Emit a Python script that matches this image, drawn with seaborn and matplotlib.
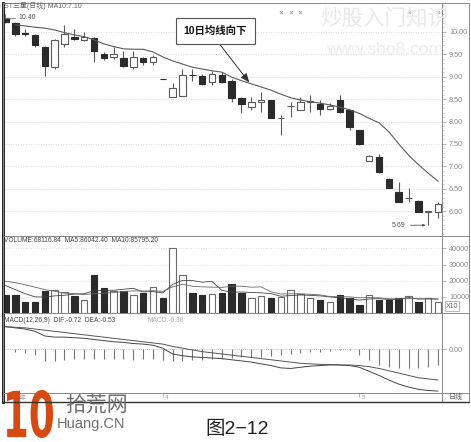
import numpy as np
import pandas as pd
import matplotlib
matplotlib.use("Agg")
import matplotlib.pyplot as plt
import matplotlib.transforms as mtransforms
import seaborn as sns
from matplotlib.ticker import MultipleLocator
from matplotlib.textpath import TextPath
from matplotlib.patches import PathPatch, Rectangle
from matplotlib.font_manager import FontProperties

# ---- daily candles ----
opens = [10.30, 10.20, 9.97, 9.93, 9.67, 9.22, 9.72, 9.89, 9.82, 9.85, 9.50, 9.43, 9.42, 9.22, 9.41,
         9.33, 8.95, 8.54, 8.57, 9.04, 9.01, 8.89, 9.04, 8.90, 8.52, 8.32, 8.43, 8.48, 8.07, 8.34,
         8.26, 8.44, 8.39, 8.29, 8.48, 8.26, 7.80, 7.13, 7.22, 6.73, 6.42, 6.29, 6.23, 5.99, 5.98]
closes = [10.22, 9.94, 9.95, 9.70, 9.24, 9.81, 9.96, 9.84, 9.88, 9.57, 9.41, 9.50, 9.24, 9.44, 9.32,
          9.43, 8.94, 8.74, 9.04, 9.03, 8.84, 9.06, 8.89, 8.52, 8.39, 8.44, 8.49, 8.07, 8.08, 8.35,
          8.44, 8.45, 8.29, 8.34, 8.22, 7.88, 7.49, 7.24, 6.87, 6.53, 6.20, 6.30, 5.98, 6.00, 6.16]
highs = [10.40, 10.22, 10.05, 9.96, 9.69, 9.84, 10.15, 10.07, 9.99, 9.88, 9.55, 9.67, 9.58, 9.58, 9.44,
         9.48, 8.95, 8.85, 9.16, 9.17, 9.06, 9.12, 9.11, 8.94, 8.55, 8.55, 8.66, 8.48, 8.15, 8.44,
         8.55, 8.59, 8.48, 8.42, 8.59, 8.29, 7.82, 7.26, 7.28, 6.75, 6.66, 6.51, 6.25, 6.01, 6.20]
lows = [10.20, 9.90, 9.90, 9.67, 9.01, 9.18, 9.67, 9.82, 9.80, 9.33, 9.37, 9.39, 9.22, 9.16, 9.27,
        9.26, 8.94, 8.54, 8.57, 8.91, 8.81, 8.81, 8.85, 8.44, 8.20, 8.26, 8.22, 8.07, 7.70, 8.11,
        8.26, 8.22, 8.14, 8.26, 8.18, 7.80, 7.47, 7.12, 6.86, 6.53, 6.20, 6.20, 5.98, 5.69, 5.85]
ma10 = [np.nan, 10.15, 10.13, 10.10, 10.08, 10.04, 9.98, 9.93, 9.89, 9.82, 9.73, 9.67, 9.62, 9.61, 9.61,
        9.55, 9.44, 9.35, 9.28, 9.21, 9.17, 9.13, 9.10, 8.99, 8.91, 8.84, 8.77, 8.70, 8.61, 8.53,
        8.48, 8.44, 8.41, 8.37, 8.32, 8.26, 8.18, 8.07, 7.97, 7.77, 7.50, 7.25, 7.04, 6.85, 6.67]

# ---- volume (x10) ----
volume = [11000, 11000, 6900, 6900, 13500, 14550, 13100, 10600, 7950, 23400, 15200, 13500, 13500, 11000, 12500,
          16200, 9000, 40000, 23400, 12100, 11000, 11650, 12100, 17800, 12500, 9600, 10400, 9400, 10000, 14550,
          11650, 9000, 7950, 6900, 11000, 9400, 4850, 11450, 7950, 8350, 9600, 10400, 6900, 9400, 6800]
vol_ma5 = [17000, 14500, 12000, 10000, 9900, 10600, 11000, 11700, 11900, 13900, 14050, 14100, 14700, 15300, 13100,
           13300, 12400, 17700, 20200, 20100, 19100, 19600, 14100, 12900, 13000, 12700, 12500, 12000, 10400, 10800,
           11200, 10900, 10600, 10000, 9300, 8850, 8000, 8700, 8900, 8400, 8400, 9600, 8600, 8900, 8600]
vol_ma10 = [19700, 18800, 17500, 16000, 14500, 13500, 12300, 12000, 11500, 11900, 12300, 12600, 13300, 13700, 13600,
            13800, 13400, 16200, 17800, 16600, 16200, 16000, 15900, 16600, 16600, 16000, 16200, 13100, 11800, 11900,
            11900, 11600, 11200, 10200, 10050, 10000, 9400, 9600, 9400, 8800, 8800, 8900, 8900, 8700, 8580]

# ---- MACD(12,26,9) ----
dif = [0.39, 0.37, 0.35, 0.31, 0.23, 0.21, 0.21, 0.20, 0.19, 0.17, 0.15, 0.13, 0.12, 0.10, 0.09,
       0.07, 0.02, -0.08, -0.11, -0.13, -0.14, -0.15, -0.16, -0.18, -0.20, -0.22, -0.25, -0.28, -0.32, -0.33,
       -0.31, -0.29, -0.28, -0.27, -0.27, -0.28, -0.31, -0.38, -0.45, -0.53, -0.60, -0.65, -0.69, -0.71, -0.72]
dea = [0.39, 0.38, 0.37, 0.35, 0.33, 0.31, 0.29, 0.27, 0.25, 0.23, 0.21, 0.19, 0.17, 0.15, 0.13,
       0.11, 0.09, 0.05, 0.02, -0.01, -0.04, -0.06, -0.08, -0.10, -0.12, -0.14, -0.16, -0.18, -0.20, -0.22,
       -0.24, -0.25, -0.26, -0.26, -0.27, -0.27, -0.28, -0.30, -0.33, -0.37, -0.41, -0.45, -0.49, -0.51, -0.53]
macd = [0.0, -0.05, -0.06, -0.09, -0.21, -0.20, -0.18, -0.17, -0.16, -0.16, -0.17, -0.17, -0.17, -0.18, -0.17,
        -0.17, -0.18, -0.21, -0.21, -0.18, -0.18, -0.16, -0.16, -0.15, -0.14, -0.13, -0.13, -0.12, -0.10, -0.08,
        -0.07, -0.05, -0.04, -0.03, -0.02, -0.02, -0.10, -0.18, -0.27, -0.30, -0.33, -0.33, -0.33, -0.30, -0.27]

price_ticks = [6.0, 6.5, 7.0, 7.5, 8.0, 8.5, 9.0, 9.5, 10.0]
vol_ticks = [10000, 20000, 30000, 40000]
month_days = [16, 36]
month_labels = ['4', '5']
info_days = [28, 29, 30, 41, 44]
low_day = 43
high_day = 0
arrow_day = 25

df = pd.DataFrame({'day': np.arange(len(opens)), 'open': opens, 'high': highs, 'low': lows,
                   'close': closes, 'ma10': ma10, 'volume': volume, 'vma5': vol_ma5,
                   'vma10': vol_ma10, 'dif': dif, 'dea': dea, 'macd': macd})
up = df['close'] >= df['open']

sns.set_theme(style="white")
plt.rcParams['font.family'] = ['Liberation Sans', 'Noto Sans CJK SC', 'DejaVu Sans']

W, H = 471, 442
DARK = '#2b2b2b'
EDGE = '#5a5a5a'
fig = plt.figure(figsize=(W / 100, H / 100), dpi=100)
fig.patch.set_facecolor('white')


def px(x0, y0, x1, y1):
    # pixel box (top-left origin) -> figure fraction rect
    return [x0 / W, 1 - y1 / H, (x1 - x0) / W, (y1 - y0) / H]


def fx(x):
    return x / W


def fy(y):
    return 1 - y / H


ax_p = fig.add_axes(px(3, 3, 442, 236))
ax_v = fig.add_axes(px(3, 236, 442, 313), sharex=ax_p)
ax_m = fig.add_axes(px(3, 313, 442, 393), sharex=ax_p)
ax_d = fig.add_axes(px(3, 393, 442, 402), sharex=ax_p)

'''
Candles
'''
body_w = 0.66
lo = df[['open', 'close']].min(axis=1)
hgt = (df['close'] - df['open']).abs().clip(lower=0.008)
ax_p.vlines(df['day'], df['low'], df['high'], color=EDGE, lw=0.8, zorder=2)
ax_p.bar(df['day'][up], hgt[up], bottom=lo[up], width=body_w, facecolor='white',
         edgecolor=EDGE, lw=0.8, zorder=3)
ax_p.bar(df['day'][~up], hgt[~up], bottom=lo[~up], width=body_w, facecolor=DARK,
         edgecolor=DARK, lw=0.8, zorder=3)
sns.lineplot(data=df, x='day', y='ma10', ax=ax_p, color='#5a5a5a', lw=0.8, zorder=4)

# small info marks along the top
ax_p.scatter(info_days, [10.43] * len(info_days), marker='x', s=5, color='#999999', lw=0.6, zorder=4)

ax_p.annotate('10.40', xy=(high_day, df['high'][high_day]), xytext=(13, -4), textcoords='offset pixels',
              fontsize=5, color='#555555', va='center',
              arrowprops=dict(arrowstyle='-', color='#777777', lw=0.6, shrinkA=0, shrinkB=0,
                              connectionstyle='angle,angleA=0,angleB=90,rad=0'))
ax_p.annotate('5.69', xy=(low_day - 0.25, df['low'][low_day]), xytext=(-20, 0), textcoords='offset pixels',
              fontsize=5, color='#555555', va='center', ha='right',
              arrowprops=dict(arrowstyle='-|>,head_length=0.3,head_width=0.12', color='#555555', lw=0.6,
                              shrinkA=1, shrinkB=0))

ax_p.annotate('', xy=(arrow_day - 0.2, df['ma10'][arrow_day] + 0.03), xycoords='data',
              xytext=(fx(218), fy(42)), textcoords='figure fraction',
              arrowprops=dict(arrowstyle='-|>,head_length=0.45,head_width=0.18', color='#333333', lw=0.7,
                              shrinkA=0, shrinkB=0))
fig.text(fx(215), fy(31), '10日均线向下', fontsize=7.5, fontweight='bold', color='#111111',
         ha='center', va='center',
         bbox=dict(boxstyle='square,pad=0.75', facecolor='white', edgecolor='#555555', lw=0.8))

# watermark
fig.text(fx(385), fy(19), '炒股入门知识', fontsize=15.5, color='#e9e9e9', ha='center', va='center', zorder=0)
fig.text(fx(385), fy(50), 'www.sbo8.com', fontsize=12.5, color='#eeeeee', ha='center', va='center', zorder=0)

ax_p.set_ylim(5.45, 10.64)
ax_p.set_yticks(price_ticks)
ax_p.set_yticklabels([f'{t:.2f}' for t in price_ticks])
ax_p.yaxis.set_minor_locator(MultipleLocator(0.1))
ax_p.grid(axis='y', ls=(0, (1, 2)), color='#cfcfcf', lw=0.6)

'''
Volume
'''
ax_v.bar(df['day'][up], df['volume'][up], width=body_w, facecolor='white', edgecolor='#6a6a6a', lw=0.8, zorder=2)
ax_v.bar(df['day'][~up], df['volume'][~up], width=body_w, facecolor=DARK, edgecolor=DARK, lw=0.8, zorder=2)
sns.lineplot(data=df, x='day', y='vma5', ax=ax_v, color='#444444', lw=0.6, zorder=4)
sns.lineplot(data=df, x='day', y='vma10', ax=ax_v, color='#666666', lw=0.6, zorder=4)
ax_v.set_ylim(0, 47700)
ax_v.set_yticks(vol_ticks)
ax_v.set_yticklabels([str(t) for t in vol_ticks])
ax_v.grid(axis='y', ls=(0, (1, 2)), color='#d5d5d5', lw=0.6)

'''
MACD
'''
ax_m.vlines(df['day'], 0, df['macd'], color='#777777', lw=0.8, zorder=2)
ax_m.axhline(0, color='#aaaaaa', lw=0.6, ls=(0, (1, 1.5)), zorder=1)
sns.lineplot(data=df, x='day', y='dif', ax=ax_m, color='#444444', lw=0.7, zorder=3)
sns.lineplot(data=df, x='day', y='dea', ax=ax_m, color='#555555', lw=0.7, zorder=3)
ax_m.set_ylim(-0.753, 0.626)
ax_m.set_yticks([0])
ax_m.set_yticklabels(['0.00'])

'''
Format axes
'''
for ax in (ax_p, ax_v, ax_m, ax_d):
    ax.set_xlim(-0.25, 44.4)
    ax.set_xlabel('')
    ax.set_ylabel('')
    ax.set_facecolor('none')
    ax.yaxis.tick_right()
    ax.tick_params(axis='y', which='major', labelsize=5.2, labelcolor='#888888', color='#999999',
                   length=3, width=0.5, direction='out', pad=2, right=True, left=False)
    ax.tick_params(axis='y', which='minor', color='#aaaaaa', length=1.5, width=0.4, right=True, left=False)
    ax.tick_params(axis='x', bottom=False, labelbottom=False)
    for s in ('top', 'bottom', 'right'):
        ax.spines[s].set_color('#8a8a8a')
        ax.spines[s].set_linewidth(0.7)
    ax.spines['left'].set_color('#111111')
    ax.spines['left'].set_linewidth(2)

ax_d.set_yticks([])
ax_d.set_ylim(0, 1)
ax_d.vlines(month_days, 0.55, 1, color='#999999', lw=0.5)
ax_d.text(0.1, 0.45, '2011年', fontsize=4.5, color='#999999', va='center')
for d, lab in zip(month_days, month_labels):
    ax_d.text(d + 0.2, 0.45, lab, fontsize=4.5, color='#999999', va='center')

# panel titles
fig.text(fx(4), fy(6), 'ST三星(日线) MA10:7.10', fontsize=5, color='#666666', va='center')
fig.text(fx(4), fy(241), 'VOLUME:68116.84  MA5:86042.40  MA10:85795.20', fontsize=4.8, color='#444444', va='center')
fig.text(fx(4), fy(320), 'MACD(12,26,9)  DIF:-0.72  DEA:-0.53', fontsize=4.8, color='#444444', va='center')
fig.text(fx(148), fy(320), 'MACD:-0.38', fontsize=4.8, color='#aaaaaa', va='center')
fig.text(fx(446), fy(306), 'X10', fontsize=5, color='#666666', va='center',
         bbox=dict(boxstyle='square,pad=0.15', facecolor='white', edgecolor='#999999', lw=0.5))
fig.text(fx(456), fy(397.5), '日线', fontsize=5, color='#555555', ha='center', va='center')

# outer frame and panel separators in the label column
frame = Rectangle((fx(3), fy(402)), fx(466), 399 / H, transform=fig.transFigure, fill=False,
                  edgecolor='#8a8a8a', lw=0.7)
fig.add_artist(frame)
for yy in (236, 313, 393):
    fig.add_artist(plt.Line2D([fx(442), fx(469)], [fy(yy), fy(yy)], transform=fig.transFigure,
                              color='#8a8a8a', lw=0.7))
fig.add_artist(plt.Line2D([fx(3), fx(469)], [fy(402), fy(402)], transform=fig.transFigure,
                          color='#333333', lw=1.0))

'''
Footer: logo and figure number
'''
tp = TextPath((0, 0), '10', size=40, prop=FontProperties(family='DejaVu Sans', weight='bold'))
bb = tp.get_extents()
tr = mtransforms.Affine2D().translate(-bb.x0, -bb.y0).scale(46 / bb.width, 48 / bb.height).translate(7, 442 - 438)
fig.add_artist(PathPatch(tp, transform=tr, facecolor='#d9480f', edgecolor='none'))
fig.text(fx(65), fy(405), '拾荒网', fontsize=15, color='#6f6f6f', va='center')
fig.text(fx(57), fy(424), 'Huang.CN', fontsize=10.5, color='#6f6f6f', va='center')
fig.text(fx(237), fy(429), '图2−12', fontsize=14, color='#222222', ha='center', va='center')

plt.savefig('out.png', dpi=100)
